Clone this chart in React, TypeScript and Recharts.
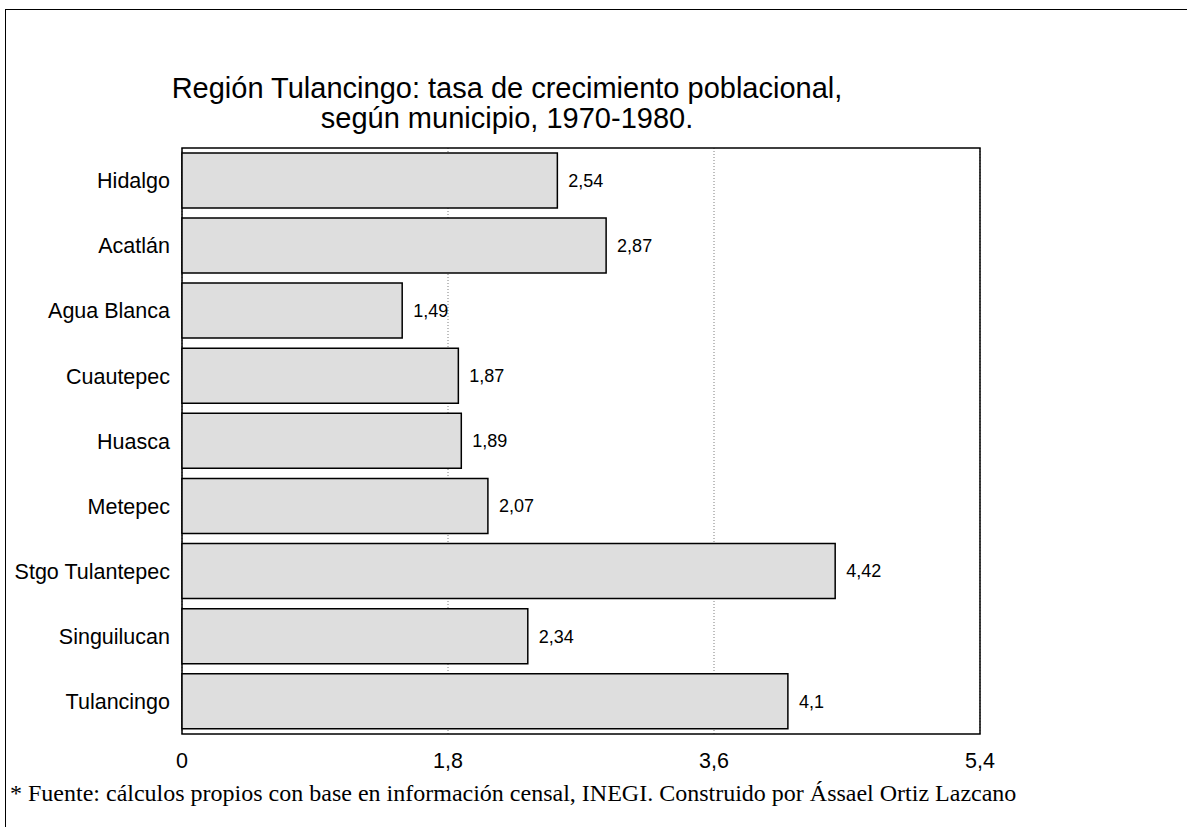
import { BarChart, Bar, XAxis, YAxis, CartesianGrid, LabelList, ReferenceArea } from 'recharts'

const municipios = [
  'Hidalgo',
  'Acatlán',
  'Agua Blanca',
  'Cuautepec',
  'Huasca',
  'Metepec',
  'Stgo Tulantepec',
  'Singuilucan',
  'Tulancingo',
]
const tasas = [2.54, 2.87, 1.49, 1.87, 1.89, 2.07, 4.42, 2.34, 4.1]
const xTicks = [0, 1.8, 3.6, 5.4]

const titulo = ['Región Tulancingo: tasa de crecimiento poblacional,', 'según municipio, 1970-1980.']
const fuente =
  '* Fuente: cálculos propios con base en información censal, INEGI. Construido por Ássael Ortiz Lazcano'

const data = municipios.map((m, i) => ({ municipio: m, tasa: tasas[i] }))

const coma = (v: number | string) => String(v).replace('.', ',')

const SANS = '"Liberation Sans", Arial, sans-serif'
const SERIF = '"Liberation Serif", "Times New Roman", serif'

export default function App() {
  return (
    <div style={{ position: 'absolute', left: 0, top: 0, width: 1187, height: 827, background: '#fff', fontFamily: SANS }}>
      {/* marco exterior: sólo borde izquierdo y superior quedan a la vista */}
      <div
        style={{
          position: 'absolute',
          left: 5,
          top: 9,
          width: 1181,
          height: 817,
          borderLeft: '1.5px solid #000',
          borderTop: '1.5px solid #000',
        }}
      />
      <div style={{ position: 'absolute', left: 0, top: 0 }}>
        <BarChart
          width={1187}
          height={827}
          data={data}
          layout="vertical"
          margin={{ top: 148, right: 207, bottom: 0, left: 0 }}
          barCategoryGap="7.5%"
        >
          <CartesianGrid
            horizontal={false}
            stroke="#7f7f7f"
            strokeDasharray="1 2"
            verticalValues={xTicks}
          />
          <XAxis
            type="number"
            domain={[0, 5.4]}
            ticks={xTicks}
            tickFormatter={coma}
            axisLine={false}
            tickLine={false}
            tickSize={0}
            tickMargin={19}
            height={93}
            tick={{ fill: '#000', fontSize: 21.5, fontFamily: SANS }}
          />
          <YAxis
            type="category"
            dataKey="municipio"
            width={182}
            axisLine={false}
            tickLine={false}
            tickSize={0}
            tickMargin={12}
            tick={{ fill: '#000', fontSize: 21.5, fontFamily: SANS }}
          />
          <Bar dataKey="tasa" fill="#dedede" stroke="#000" strokeWidth={1.5} isAnimationActive={false}>
            <LabelList
              dataKey="tasa"
              position="right"
              offset={11}
              formatter={coma}
              fill="#000"
              fontSize={18}
              fontFamily={SANS}
            />
          </Bar>
          <ReferenceArea x1={0} x2={5.4} fill="none" stroke="#000" strokeWidth={1.5} />
        </BarChart>
      </div>
      <svg width={1187} height={827} style={{ position: 'absolute', left: 0, top: 0, pointerEvents: 'none' }}>
        <text x={507} y={98} textAnchor="middle" fontSize={29} fontFamily={SANS} fill="#000">
          {titulo[0]}
        </text>
        <text x={507} y={128} textAnchor="middle" fontSize={29} fontFamily={SANS} fill="#000">
          {titulo[1]}
        </text>
        <text x={10} y={801} fontSize={24} fontFamily={SERIF} fill="#000">
          {fuente}
        </text>
      </svg>
    </div>
  )
}
